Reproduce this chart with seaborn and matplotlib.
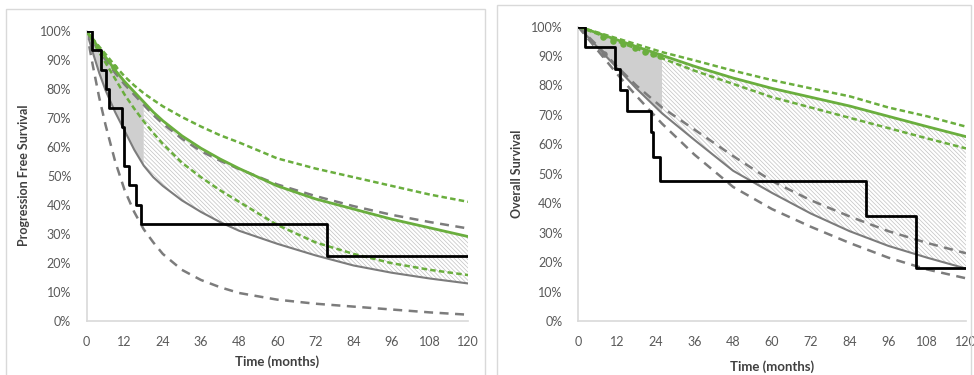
import numpy as np
import pandas as pd
import seaborn as sns
import matplotlib.pyplot as plt
from matplotlib.patches import Rectangle

# ---------------- data (percent survival) ----------------
x_ticks = [0, 12, 24, 36, 48, 60, 72, 84, 96, 108, 120]
y_ticks = [0, 10, 20, 30, 40, 50, 60, 70, 80, 90, 100]
y_tick_labels = [f"{v}%" for v in y_ticks]

# Left panel: Progression Free Survival
pfs_months = [0, 2, 4, 6, 9, 12, 15, 18, 21, 24, 30, 36, 42, 48, 60, 72, 84, 96, 108, 120]
pfs_ctrl = [100, 92.5, 85.5, 79.5, 72, 65.5, 59, 53.5, 49.5, 46.5, 41.5, 37.5, 34, 31, 26.5, 22.5, 19, 16.5, 14.5, 12.8]
pfs_ctrl_hi = [100, 96.5, 93, 90, 85.5, 81.5, 78, 74.5, 71, 68, 62.8, 58.5, 55.2, 52.3, 47, 43, 39.5, 36.5, 34, 31.8]
pfs_ctrl_lo = [100, 88, 77, 67.5, 55, 45, 37.5, 31.5, 27, 23, 17.5, 14, 11.5, 9.5, 7.2, 5.8, 4.8, 3.8, 2.8, 2]
pfs_trt = [100, 97, 94, 91, 86.5, 82.5, 79, 75.5, 72, 69, 63.8, 59.5, 55.8, 52.5, 46.5, 42, 38.5, 35, 32, 29]
pfs_trt_hi = [100, 97.3, 94.6, 92, 88, 84.3, 81.2, 78.5, 76.2, 74, 70.3, 67, 64, 61.5, 56, 52.5, 49.5, 46.5, 43.5, 41]
pfs_trt_lo = [100, 96.3, 92.6, 89, 83.5, 78, 73.2, 68.8, 64.8, 61, 54.5, 49.5, 45, 41, 33, 27, 23, 19.8, 17.5, 15.7]
pfs_km_t = [0, 1.8, 4.5, 6.0, 7.1, 11.3, 11.8, 13.4, 15.5, 17.0, 75.5, 120]
pfs_km_s = [100, 93.3, 86.7, 80.0, 73.3, 66.7, 53.3, 46.7, 40.0, 33.3, 22.2, 22.2]
pfs_obs_t = [8.5]
pfs_obs_s = [87.5]
pfs_cut = 18

# Right panel: Overall Survival
os_months = [0, 6, 12, 18, 26, 36, 48, 60, 72, 84, 96, 108, 120]
os_ctrl = [100, 93, 86, 79, 70.5, 61.5, 51, 43.5, 36.5, 30.5, 25.5, 21.5, 17.8]
os_ctrl_hi = [100, 93.5, 86.5, 80, 72.5, 65, 56, 47.5, 41, 35.5, 30.5, 26.5, 23]
os_ctrl_lo = [100, 92, 84, 76.5, 67, 56.5, 45.5, 38, 32, 26.5, 21.5, 17.5, 14.5]
os_trt = [100, 97.8, 95.5, 93.2, 90.2, 86.5, 82.5, 79, 76, 73, 69.5, 66, 62.6]
os_trt_hi = [100, 98, 96, 94, 91.3, 88.5, 85, 81.8, 79, 76.3, 72.5, 69.5, 66]
os_trt_lo = [100, 97.5, 95, 92.5, 89.2, 85, 80.5, 76, 72.5, 69, 65.5, 62, 58.6]
os_km_t = [0, 2.2, 11.4, 13.0, 15.0, 22.7, 23.3, 25.3, 89.0, 104.5, 120]
os_km_s = [100, 92.9, 85.7, 78.6, 71.4, 64.3, 55.8, 47.6, 35.7, 17.9, 17.9]
os_obs_t = [7.7, 10.8, 13.9, 17.6, 20.7, 23.1, 25.3]
os_obs_s = [96.4, 95.2, 94.0, 92.6, 91.4, 90.6, 89.9]
os_ctrl_obs_t = [8.0]
os_ctrl_obs_s = [90.5]
os_cut = 26

# ---------------- style ----------------
sns.set_theme(style="white")
plt.rcParams["font.family"] = ["Lato", "DejaVu Sans"]
plt.rcParams["hatch.linewidth"] = 0.5
plt.rcParams["hatch.color"] = "#c2c2c2"

GREEN = "#6aae3e"
GRAY = "#7c7c7c"
TXT = "#595959"

fig = plt.figure(figsize=(9.74, 3.75), dpi=100)

# panel frames
fig.add_artist(Rectangle((6 / 974, -0.02), 479 / 974, 1 - 9 / 375 + 0.02,
                         transform=fig.transFigure, fill=False, ec="#d9d9d9", lw=1))
fig.add_artist(Rectangle((497 / 974, -0.02), 474 / 974, 1 - 5 / 375 + 0.02,
                         transform=fig.transFigure, fill=False, ec="#d9d9d9", lw=1))

ax1 = fig.add_axes([86.5 / 974, 1 - 320.5 / 375, 381.5 / 974, 289.5 / 375])
ax2 = fig.add_axes([578 / 974, 1 - 321 / 375, 388 / 974, 294.5 / 375])


def draw(ax, months, ctrl, ctrl_hi, ctrl_lo, trt, trt_hi, trt_lo, km_t, km_s, cut,
         ylabel, ylab_x, xlab_y, obs_t, obs_s, cobs_t=None, cobs_s=None):
    m = np.array(months, dtype=float)
    lo = np.array(ctrl, dtype=float)
    hi = np.array(trt, dtype=float)
    ax.fill_between(m, lo, hi, where=m <= cut, color="#cfcfcf", lw=0, zorder=1)
    ax.fill_between(m, lo, hi, where=m >= cut, facecolor="white",
                    edgecolor="#c2c2c2", hatch="\\" * 8, lw=0, zorder=1)
    gdash = (0, (3.6, 2.6))
    edash = (0, (2.2, 1.3))
    sns.lineplot(x=months, y=ctrl_lo, ax=ax, color=GRAY, lw=1.8, linestyle=gdash, zorder=2)
    sns.lineplot(x=months, y=ctrl_hi, ax=ax, color=GRAY, lw=1.8, linestyle=gdash, zorder=2)
    sns.lineplot(x=months, y=ctrl, ax=ax, color=GRAY, lw=1.5, zorder=2)
    if cobs_t is not None:
        sns.scatterplot(x=cobs_t, y=cobs_s, ax=ax, color=GRAY, s=22, linewidth=0, zorder=2)
    sns.lineplot(x=months, y=trt_lo, ax=ax, color=GREEN, lw=1.8, linestyle=edash, zorder=3)
    sns.lineplot(x=months, y=trt_hi, ax=ax, color=GREEN, lw=1.8, linestyle=edash, zorder=3)
    sns.lineplot(x=months, y=trt, ax=ax, color=GREEN, lw=2.0, zorder=3)
    sns.scatterplot(x=obs_t, y=obs_s, ax=ax, color=GREEN, s=22, linewidth=0, zorder=3)
    sns.lineplot(x=km_t, y=km_s, ax=ax, color="black", lw=2.0, drawstyle="steps-post", zorder=4)

    ax.set_xlim(0, 120)
    ax.set_ylim(0, 100)
    ax.set_xticks(x_ticks)
    ax.set_xticklabels([str(v) for v in x_ticks])
    ax.set_yticks(y_ticks)
    ax.set_yticklabels(y_tick_labels)
    ax.tick_params(length=0, pad=11, labelsize=9, colors=TXT)
    for s in ["top", "right"]:
        ax.spines[s].set_visible(False)
    for s in ["left", "bottom"]:
        ax.spines[s].set_color("#d9d9d9")
        ax.spines[s].set_linewidth(1.2)
    ax.set_xlabel("Time (months)", fontsize=9.5, fontweight="bold", color="#404040")
    ax.set_ylabel(ylabel, fontsize=9, fontweight="bold", color="#404040")
    ax.xaxis.set_label_coords(0.5, xlab_y)
    ax.yaxis.set_label_coords(ylab_x, 0.5)
    ax.set_facecolor("none")


draw(ax1, pfs_months, pfs_ctrl, pfs_ctrl_hi, pfs_ctrl_lo, pfs_trt, pfs_trt_hi, pfs_trt_lo,
     pfs_km_t, pfs_km_s, pfs_cut, "Progression Free Survival", -0.148, -0.12,
     pfs_obs_t, pfs_obs_s)
draw(ax2, os_months, os_ctrl, os_ctrl_hi, os_ctrl_lo, os_trt, os_trt_hi, os_trt_lo,
     os_km_t, os_km_s, os_cut, "Overall Survival", -0.141, -0.132,
     os_obs_t, os_obs_s, os_ctrl_obs_t, os_ctrl_obs_s)

fig.savefig("out.png", dpi=100)
